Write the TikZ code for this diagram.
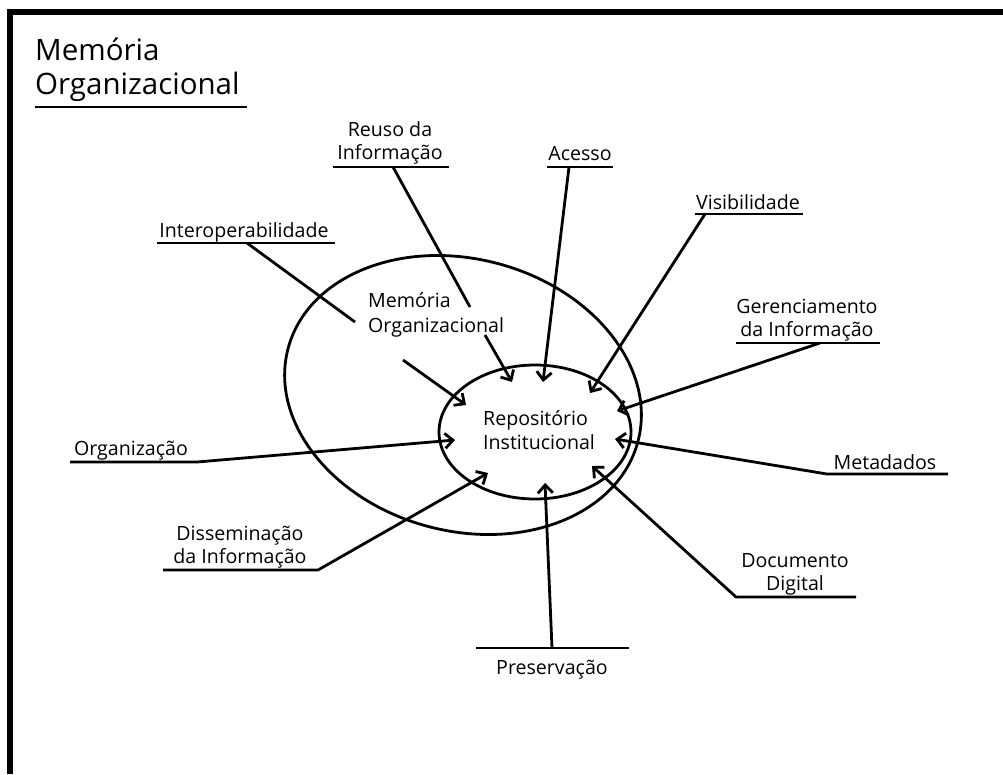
\documentclass[tikz,border=0pt]{standalone}
\usepackage{fontspec}
\setmainfont{Open Sans}
\usetikzlibrary{arrows.meta}
\begin{document}
\begin{tikzpicture}[x=1pt,y=-1pt,
  lbl/.style={font=\fontsize{19.6}{22}\selectfont, inner sep=0pt, anchor=base},
  lblw/.style={lbl, anchor=base west},
  ttl/.style={font=\fontsize{29.5}{32}\selectfont, inner sep=0pt, anchor=base west},
  ul/.style={line width=2.8pt},
  conn/.style={line width=2.8pt, line join=round, -{Straight Barb[length=8pt,width=15pt,line width=2.8pt]}},
  plain/.style={line width=2.8pt},
  ell/.style={line width=2.8pt}]
\useasboundingbox (0,0) rectangle (1003,774);
% frame
\draw[line width=6pt] (10,774) -- (10,12) -- (1003,12);
% title
\node[ttl] (t1) at (35,60) {Memória};
\node[ttl] (t2) at (35,94) {Organizacional};
\coordinate (tA) at (35,107); \coordinate (tB) at (247,107);
\draw[ul] (tA) -- (tB);
% ellipses
\draw[ell, rotate around={-15:(463,395)}] (463,395) ellipse [x radius=181pt, y radius=136pt];
\draw[ell] (535,432) ellipse [x radius=96pt, y radius=67pt];
% central texts
\node[lblw] (mo1) at (368,307) {Memória};
\node[lblw] (mo2) at (368,332) {Organizacional};
\node[lblw] (ri1) at (483,425) {Repositório};
\node[lblw] (ri2) at (483,449) {Institucional};
% labels
\node[lbl] (re1) at (390,136) {Reuso da};
\node[lbl] (re2) at (390,159) {Informação};
\node[lbl] (ac) at (580,160) {Acesso};
\node[lbl] (vi) at (748,209) {Visibilidade};
\node[lbl] (io) at (244,237) {Interoperabilidade};
\node[lbl] (ge1) at (807,313) {Gerenciamento};
\node[lbl] (ge2) at (807,336) {da Informação};
\node[lbl] (me) at (885,469) {Metadados};
\node[lbl] (do1) at (795,567) {Documento};
\node[lbl] (do2) at (795,590) {Digital};
\node[lbl] (pr) at (552,674) {Preservação};
\node[lbl] (or) at (131,455) {Organização};
\node[lbl] (di1) at (240,540) {Disseminação};
\node[lbl] (di2) at (240,563) {da Informação};
% underline / connector coordinates
\coordinate (reA) at (333,167); \coordinate (reB) at (449,167); \coordinate (reS) at (393,167);
\coordinate (reM1) at (470,307); \coordinate (reM2) at (485,335); \coordinate (reT) at (512,382);
\coordinate (acA) at (547,167); \coordinate (acB) at (613,167); \coordinate (acS) at (569,167); \coordinate (acT) at (543,382);
\coordinate (ioA) at (157,243); \coordinate (ioB) at (335,243); \coordinate (ioS) at (247,243);
\coordinate (ioM1) at (355,322); \coordinate (ioM2) at (403,360); \coordinate (ioT) at (466,405);
\coordinate (viA) at (695,214); \coordinate (viB) at (803,214); \coordinate (viS) at (705,214); \coordinate (viT) at (590,393);
\coordinate (geA) at (736,343); \coordinate (geB) at (880,343); \coordinate (geS) at (820,343); \coordinate (geT) at (617,411);
\coordinate (meA) at (948,474); \coordinate (meB) at (827,474); \coordinate (meT) at (615,439);
\coordinate (doA) at (856,597); \coordinate (doB) at (736,597); \coordinate (doT) at (592,466);
\coordinate (prA) at (476,648); \coordinate (prB) at (629,648); \coordinate (prS) at (552,648); \coordinate (prT) at (545,483);
\coordinate (orA) at (70,462); \coordinate (orB) at (197,462); \coordinate (orT) at (455,440);
\coordinate (diA) at (163,570); \coordinate (diB) at (318,570); \coordinate (diT) at (488,473);
% underlines
\foreach \a/\b in {reA/reB, acA/acB, ioA/ioB, viA/viB, geA/geB, prA/prB}
  \draw[ul] (\a) -- (\b);
% connectors
\draw[plain] (reS) -- (reM1);
\draw[conn] (reM2) -- (reT);
\draw[conn] (acS) -- (acT);
\draw[plain] (ioS) -- (ioM1);
\draw[conn] (ioM2) -- (ioT);
\draw[conn] (viS) -- (viT);
\draw[conn] (geS) -- (geT);
\draw[conn] (meA) -- (meB) -- (meT);
\draw[conn] (doA) -- (doB) -- (doT);
\draw[conn] (prS) -- (prT);
\draw[conn] (orA) -- (orB) -- (orT);
\draw[conn] (diA) -- (diB) -- (diT);
\end{tikzpicture}
\end{document}
